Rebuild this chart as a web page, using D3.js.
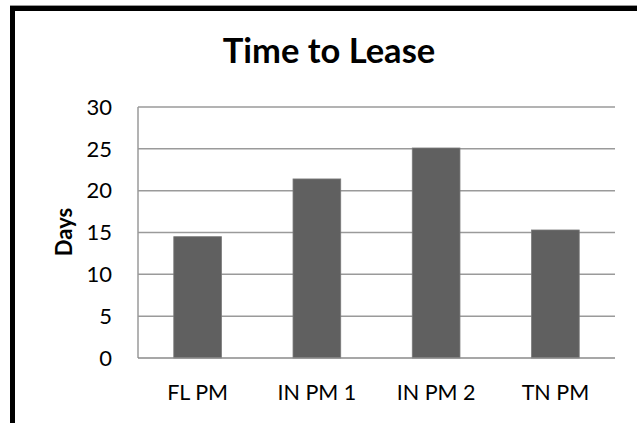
<!DOCTYPE html>
<html><head><meta charset="utf-8">
<script src="https://cdn.jsdelivr.net/npm/d3@7"></script>
<style>html,body{margin:0;padding:0;background:#fff;}svg{display:block;}</style>
</head><body>
<script>
const categories = ["FL PM", "IN PM 1", "IN PM 2", "TN PM"];
const values = [14.5, 21.4, 25.1, 15.3];
const yTicks = [0, 5, 10, 15, 20, 25, 30];
const title = "Time to Lease";
const yTitle = "Days";

const W = 637, H = 423;
const svg = d3.select("body").append("svg").attr("width", W).attr("height", H);
svg.append("rect").attr("width", W).attr("height", H).attr("fill", "#fff");

const plot = {left: 138, right: 615, top: 107, bottom: 358};
const x = d3.scaleBand().domain(categories).range([plot.left, plot.right]).padding(0);
const y = d3.scaleLinear().domain([0, 30]).range([plot.bottom, plot.top]);

const font = "Lato, 'Noto Sans', sans-serif";

// gridlines
svg.append("g").selectAll("line").data(yTicks.filter(t => t > 0)).join("line")
  .attr("x1", plot.left).attr("x2", plot.right)
  .attr("y1", d => y(d)).attr("y2", d => y(d))
  .attr("stroke", "#9a9a9a").attr("stroke-width", 1.5);

// bars
const bw = x.bandwidth() * 0.4;
svg.append("g").selectAll("rect").data(values).join("rect")
  .attr("x", (d, i) => x(categories[i]) + (x.bandwidth() - bw) / 2)
  .attr("y", d => y(d))
  .attr("width", bw)
  .attr("height", d => y(0) - y(d))
  .attr("fill", "#606060").attr("stroke", "#7a7a7a").attr("stroke-width", 0.8);

// axis lines
svg.append("line").attr("x1", plot.left).attr("x2", plot.left)
  .attr("y1", plot.top).attr("y2", plot.bottom).attr("stroke", "#9a9a9a").attr("stroke-width", 1.5);
svg.append("line").attr("x1", plot.left).attr("x2", plot.right)
  .attr("y1", plot.bottom).attr("y2", plot.bottom).attr("stroke", "#8a8a8a").attr("stroke-width", 1.5);

// y tick labels
svg.append("g").selectAll("text").data(yTicks).join("text")
  .attr("x", 112).attr("y", d => y(d)).attr("dy", "0.35em")
  .attr("text-anchor", "end")
  .attr("font-family", font).attr("font-size", 22).attr("fill", "#000")
  .text(d => d);

// x labels
svg.append("g").selectAll("text").data(categories).join("text")
  .attr("x", d => x(d) + x.bandwidth() / 2).attr("y", 400)
  .attr("text-anchor", "middle")
  .attr("font-family", font).attr("font-size", 21.5).attr("fill", "#000")
  .text(d => d);

// y title
svg.append("text").attr("transform", "translate(72,232) rotate(-90)")
  .attr("text-anchor", "middle")
  .attr("font-family", font).attr("font-weight", "bold").attr("font-size", 22)
  .text(yTitle);

// title
svg.append("text").attr("x", 329).attr("y", 63).attr("text-anchor", "middle")
  .attr("font-family", font).attr("font-weight", "bold").attr("font-size", 34.5)
  .text(title);

// border
svg.append("line").attr("x1", 10).attr("x2", W).attr("y1", 5.5).attr("y2", 5.5)
  .attr("stroke", "#999").attr("stroke-width", 1);
svg.append("line").attr("x1", 10).attr("x2", W).attr("y1", 8.5).attr("y2", 8.5)
  .attr("stroke", "#000").attr("stroke-width", 5);
svg.append("line").attr("x1", 12.5).attr("x2", 12.5).attr("y1", 6).attr("y2", H)
  .attr("stroke", "#000").attr("stroke-width", 5);
</script>
</body></html>
